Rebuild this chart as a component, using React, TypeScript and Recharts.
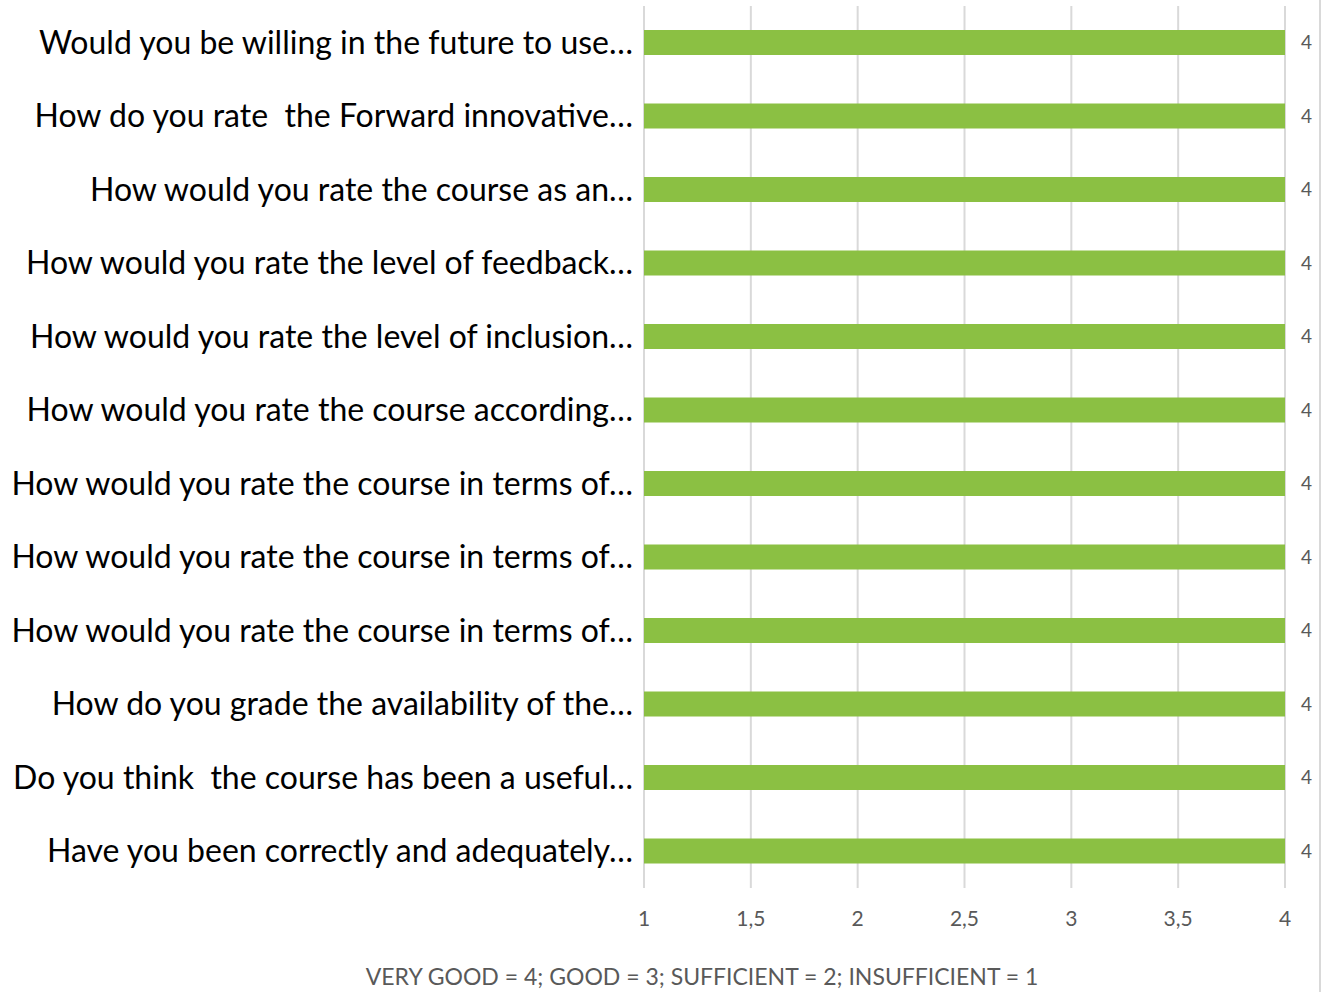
import React from "react"
import { BarChart, Bar, XAxis, YAxis, CartesianGrid, LabelList } from "recharts"

const questions = [
  "Would you be willing in the future to use…",
  "How do you rate  the Forward innovative…",
  "How would you rate the course as an…",
  "How would you rate the level of feedback…",
  "How would you rate the level of inclusion…",
  "How would you rate the course according…",
  "How would you rate the course in terms of…",
  "How would you rate the course in terms of…",
  "How would you rate the course in terms of…",
  "How do you grade the availability of the…",
  "Do you think  the course has been a useful…",
  "Have you been correctly and adequately…",
]

const scores = [4, 4, 4, 4, 4, 4, 4, 4, 4, 4, 4, 4]

const xTicks = [1, 1.5, 2, 2.5, 3, 3.5, 4]

const scaleNote = "VERY GOOD = 4; GOOD = 3; SUFFICIENT = 2; INSUFFICIENT = 1"

const data = questions.map((q, i) => ({ id: i, question: q, score: scores[i] }))

const FONT = "Lato, 'Open Sans', sans-serif"

function QuestionTick(props: any) {
  const { x, y, payload } = props
  return (
    <text
      x={x + 5}
      y={y}
      dy="0.35em"
      textAnchor="end"
      fill="#000"
      fontSize={32}
      fontFamily={FONT}
      style={{ whiteSpace: "pre" }}
    >
      {questions[payload.value]}
    </text>
  )
}

export default function App() {
  return (
    <div style={{ position: "absolute", left: 0, top: 0, width: 1328, height: 992, background: "#fff" }}>
      <BarChart
        width={1328}
        height={992}
        data={data}
        layout="vertical"
        margin={{ top: 6, right: 43, left: 0, bottom: 54 }}
      >
        <CartesianGrid horizontal={false} stroke="#d9d9d9" strokeWidth={2} />
        <XAxis
          type="number"
          domain={[1, 4]}
          ticks={xTicks}
          tickFormatter={(v: number) => String(v).replace(".", ",")}
          tick={{ fill: "#595959", fontSize: 21, fontFamily: FONT }}
          axisLine={false}
          tickLine={false}
          tickMargin={17}
          height={50}
          interval={0}
        />
        <YAxis
          type="category"
          dataKey="id"
          width={644}
          tick={<QuestionTick />}
          axisLine={false}
          tickLine={false}
          tickMargin={10}
          interval={0}
        />
        <Bar dataKey="score" fill="#8bc043" barSize={25} isAnimationActive={false}>
          <LabelList
            dataKey="score"
            position="right"
            offset={16}
            fill="#595959"
            fontSize={19}
            fontFamily={FONT}
          />
        </Bar>
      </BarChart>
      <div
        style={{
          position: "absolute",
          left: 302,
          width: 800,
          top: 962,
          textAlign: "center",
          color: "#595959",
          fontSize: 23,
          fontFamily: FONT,
          lineHeight: "28px",
        }}
      >
        {scaleNote}
      </div>
      <div style={{ position: "absolute", left: 1319, top: 0, width: 2, height: 992, background: "#d9d9d9" }} />
    </div>
  )
}
